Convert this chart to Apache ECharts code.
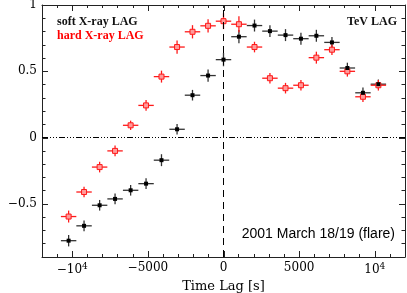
<!DOCTYPE html>
<html><head><meta charset="utf-8">
<script src="https://cdn.jsdelivr.net/npm/echarts@6/dist/echarts.min.js"></script>
<style>html,body{margin:0;padding:0;background:#fff}#c{width:407px;height:293px}</style>
</head><body><div id="c"></div>
<script>
// ---- data ----
const lags = [-10240, -9220, -8190, -7170, -6140, -5120, -4100, -3070, -2050, -1020, 0,
              1020, 2050, 3070, 4100, 5120, 6140, 7170, 8190, 9220, 10240];
const lagErr = [510, 510, 510, 510, 510, 510, 510, 510, 510, 510, 510,
                510, 510, 510, 510, 510, 510, 510, 510, 510, 510];
const softDCF = [-0.777, -0.665, -0.51, -0.462, -0.397, -0.347, -0.17, 0.063, 0.32, 0.468, 0.588,
                 0.761, 0.845, 0.803, 0.773, 0.746, 0.768, 0.718, 0.525, 0.338, 0.403];
const softErr = [0.043, 0.04, 0.04, 0.04, 0.04, 0.04, 0.045, 0.04, 0.04, 0.046, 0.05,
                 0.05, 0.045, 0.045, 0.045, 0.045, 0.045, 0.04, 0.04, 0.04, 0.035];
const hardDCF = [-0.595, -0.41, -0.222, -0.1, 0.093, 0.243, 0.46, 0.683, 0.798, 0.843, 0.878,
                 0.855, 0.683, 0.448, 0.373, 0.395, 0.603, 0.663, 0.50, 0.308, 0.395];
const hardErr = [0.045, 0.04, 0.04, 0.04, 0.035, 0.04, 0.045, 0.05, 0.05, 0.05, 0.06,
                 0.06, 0.04, 0.04, 0.04, 0.04, 0.045, 0.04, 0.04, 0.04, 0.04];
const xMajorTicks = [-10000, -5000, 0, 5000, 10000];
const yMajorTicks = [-0.5, 0, 0.5, 1];
const legendSoft = 'soft X-ray LAG';
const legendHard = 'hard X-ray LAG';
const legendTeV = 'TeV LAG';
const caption = '2001 March 18/19 (flare)';

const RED = '#ff1a1a';
const AX = '#222';
const serif = '"DejaVu Serif", serif';
const chart = echarts.init(document.getElementById('c'), null, {renderer: 'canvas'});

function isMajor(v, list) { return list.some(m => Math.abs(m - v) < 1e-6); }
function xFmt(v) {
  if (!isMajor(v, xMajorTicks)) return '';
  const r = Math.round(v);
  if (r === 10000) return '{n|10}{s|4}';
  if (r === -10000) return '{n|\u221210}{s|4}';
  if (r === 0) return '{n|0}';
  return '{n|' + (r < 0 ? '\u2212' : '') + Math.abs(r) + '}';
}
function yFmt(v) {
  if (!isMajor(v, yMajorTicks)) return '';
  const r = Math.round(v * 10) / 10;
  if (r === 0) return '0';
  return (r < 0 ? '\u2212' : '') + Math.abs(r);
}

function errData(ys, es) { return lags.map((x, i) => [x, ys[i], lagErr[i], es[i]]); }
function errRender(color) {
  return function (params, api) {
    const x = api.value(0), y = api.value(1), ex = api.value(2), ey = api.value(3);
    const l = api.coord([x - ex, y]), r = api.coord([x + ex, y]);
    const t = api.coord([x, y + ey]), b = api.coord([x, y - ey]);
    return {type: 'group', children: [
      {type: 'line', shape: {x1: l[0], y1: l[1], x2: r[0], y2: r[1]}, style: {stroke: color, lineWidth: 1.3}},
      {type: 'line', shape: {x1: t[0], y1: t[1], x2: b[0], y2: b[1]}, style: {stroke: color, lineWidth: 1.3}}
    ]};
  };
}
// longer major ticks on all four sides, positioned by the axes' own scales
const MAJ = 6;
function xMajorRender(params, api) {
  const cs = params.coordSys;
  const px = Math.round(api.coord([api.value(0), 0])[0]) + 0.5;
  const y0 = cs.y, y1 = cs.y + cs.height;
  return {type: 'group', children: [
    {type: 'line', shape: {x1: px, y1: y1, x2: px, y2: y1 - MAJ}, style: {stroke: AX, lineWidth: 1}},
    {type: 'line', shape: {x1: px, y1: y0, x2: px, y2: y0 + MAJ}, style: {stroke: AX, lineWidth: 1}}
  ]};
}
function yMajorRender(params, api) {
  const cs = params.coordSys;
  const py = Math.round(api.coord([0, api.value(1)])[1]) + 0.5;
  const x0 = cs.x, x1 = cs.x + cs.width;
  return {type: 'group', children: [
    {type: 'line', shape: {x1: x0, y1: py, x2: x0 + MAJ, y2: py}, style: {stroke: AX, lineWidth: 1}},
    {type: 'line', shape: {x1: x1, y1: py, x2: x1 - MAJ, y2: py}, style: {stroke: AX, lineWidth: 1}}
  ]};
}

function axisLineStyle() { return {show: true, onZero: false, lineStyle: {color: AX, width: 1}}; }
function xAx(pos, withLabels) {
  return {
    type: 'value', position: pos, min: -12000, max: 12000, interval: 1000,
    axisLine: axisLineStyle(), splitLine: {show: false}, axisPointer: {show: false},
    axisTick: {show: true, inside: true, length: 3, lineStyle: {color: AX}},
    axisLabel: withLabels ? {show: true, margin: 5, formatter: xFmt, color: '#000',
      rich: {n: {fontFamily: serif, fontSize: 12, color: '#000'},
             s: {fontFamily: serif, fontSize: 9, color: '#000', verticalAlign: 'top', padding: [0, 0, 6, 0]}}}
      : {show: false},
    name: withLabels ? 'Time Lag [s]' : '', nameLocation: 'middle', nameGap: 23,
    nameTextStyle: {fontFamily: serif, fontSize: 13, color: '#000'}
  };
}
function yAx(pos, withLabels) {
  return {
    type: 'value', position: pos, min: -0.9, max: 1, interval: 0.1,
    axisLine: axisLineStyle(), splitLine: {show: false}, axisPointer: {show: false},
    axisTick: {show: true, inside: true, length: 3.5, lineStyle: {color: AX}},
    axisLabel: withLabels ? {show: true, margin: 5, formatter: yFmt, color: '#000', fontFamily: serif, fontSize: 12}
      : {show: false},
    name: withLabels ? 'DCF' : '', nameLocation: 'middle', nameGap: 27, nameRotate: 90,
    nameTextStyle: {fontFamily: serif, fontSize: 13, color: '#000'}
  };
}

chart.setOption({
  animation: false,
  backgroundColor: '#fff',
  grid: {left: 42, right: 2, top: 5, bottom: 36, containLabel: false, outerBoundsMode: 'none'},
  xAxis: [xAx('bottom', true), xAx('top', false)],
  yAxis: [yAx('left', true), yAx('right', false)],
  series: [
    {type: 'line', data: [], showSymbol: false, silent: true,
     markLine: {silent: true, symbol: 'none', label: {show: false}, animation: false,
       data: [
         {xAxis: 0, lineStyle: {color: '#000', width: 1, type: [7, 5]}},
         {yAxis: 0, lineStyle: {color: '#000', width: 1, type: [6, 2, 1, 2, 1, 2, 1, 2]}}
       ]}},
    {type: 'custom', renderItem: xMajorRender, data: xMajorTicks.map(v => [v, 0]), clip: false, silent: true, z: 1},
    {type: 'custom', renderItem: yMajorRender, data: yMajorTicks.map(v => [0, v]), clip: false, silent: true, z: 1},
    {type: 'custom', renderItem: errRender('#333'), data: errData(softDCF, softErr), z: 2,
     encode: {x: 0, y: 1}, clip: true},
    {type: 'custom', renderItem: errRender(RED), data: errData(hardDCF, hardErr), z: 2, encode: {x: 0, y: 1}, clip: true},
    {type: 'scatter', data: lags.map((x, i) => [x, hardDCF[i]]), symbol: 'rect', symbolSize: 5, z: 3,
     itemStyle: {color: '#ff9a9a', borderColor: RED, borderWidth: 1, opacity: 1}},
    {type: 'scatter', data: lags.map((x, i) => [x, softDCF[i]]), symbol: 'rect', symbolSize: 4, z: 4,
     itemStyle: {color: '#000', opacity: 1}}
  ],
  graphic: [
    {type: 'text', left: 57, top: 16, z: 100, style: {text: legendSoft, font: 'bold 12px "Liberation Serif"', fill: '#111'}},
    {type: 'text', left: 57, top: 30, z: 100, style: {text: legendHard, font: 'bold 12px "Liberation Serif"', fill: '#ff0000'}},
    {type: 'text', right: 10, top: 16, z: 100, style: {text: legendTeV, font: 'bold 12px "Liberation Serif"', fill: '#111'}},
    {type: 'text', right: 12, top: 227, z: 100, style: {text: caption, font: '14px "Liberation Sans"', fill: '#000'}}
  ]
});
</script>
</body></html>
